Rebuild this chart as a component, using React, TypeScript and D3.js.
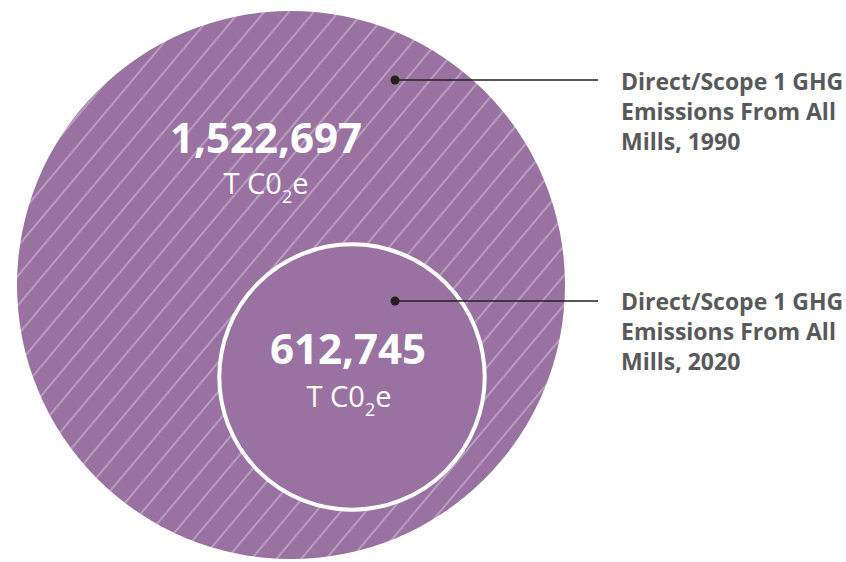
import React from "react";
import * as d3 from "d3";

const years = ["1990", "2020"];
const values = [1522697, 612745];
const labelLines = [
  ["Direct/Scope 1 GHG", "Emissions From All", "Mills, 1990"],
  ["Direct/Scope 1 GHG", "Emissions From All", "Mills, 2020"],
];
const unitMain = "T C0";
const unitSub = "2";
const unitEnd = "e";

const W = 846;
const H = 562;
const PURPLE = "#9a72a2";

export default function App() {
  const fmt = d3.format(",");
  const r = d3.scalePow().exponent(0.78).domain([0, d3.max(values)!]).range([0, 274]);
  const R0 = r(values[0]);
  const R1 = r(values[1]);
  const c0 = { x: 291, y: 285 };
  const c1 = { x: 352, y: 377 };
  const dots = [
    { x: 395, y: 80 },
    { x: 395, y: 301 },
  ];
  const lineEnd = 598;
  const labelX = 621;
  const labelY = [90, 310];
  const lh = 30;
  const font = "'Open Sans', 'Noto Sans', sans-serif";

  const unit = (x: number, y: number) => (
    <text x={x} y={y} textAnchor="middle" fill="#fff" fontFamily={font} fontSize={29} fontWeight={400}>
      {unitMain}
      <tspan fontSize={18} dy={9}>{unitSub}</tspan>
      <tspan dy={-9}>{unitEnd}</tspan>
    </text>
  );

  return (
    <svg width={W} height={H} style={{ position: "absolute", left: 0, top: 0 }}>
      <defs>
        <pattern id="hatch" patternUnits="userSpaceOnUse" width={19} height={19} patternTransform="rotate(40)">
          <rect width={19} height={19} fill={PURPLE} />
          <line x1={1} y1={0} x2={1} y2={19} stroke="#ffffff" strokeOpacity={0.55} strokeWidth={1.1} />
        </pattern>
      </defs>
      <circle cx={c0.x} cy={c0.y} r={R0} fill="url(#hatch)" />
      <circle cx={c1.x} cy={c1.y} r={R1 - 2} fill={PURPLE} stroke="#fff" strokeWidth={4} />

      <text x={266} y={153} textAnchor="middle" fill="#fff" fontFamily={font} fontSize={42} fontWeight={700}>
        {fmt(values[0])}
      </text>
      {unit(266, 194)}
      <text x={348} y={364} textAnchor="middle" fill="#fff" fontFamily={font} fontSize={42} fontWeight={700}>
        {fmt(values[1])}
      </text>
      {unit(349, 407)}

      {years.map((yr, i) => (
        <g key={yr}>
          <line x1={dots[i].x} y1={dots[i].y} x2={lineEnd} y2={dots[i].y} stroke="#231f20" strokeWidth={1.4} />
          <circle cx={dots[i].x} cy={dots[i].y} r={4.5} fill="#231f20" />
          <text fill="#58595b" fontFamily={font} fontSize={23} fontWeight={700}>
            {labelLines[i].map((t, j) => (
              <tspan key={j} x={labelX} y={labelY[i] + j * lh}>
                {t}
              </tspan>
            ))}
          </text>
        </g>
      ))}
    </svg>
  );
}
